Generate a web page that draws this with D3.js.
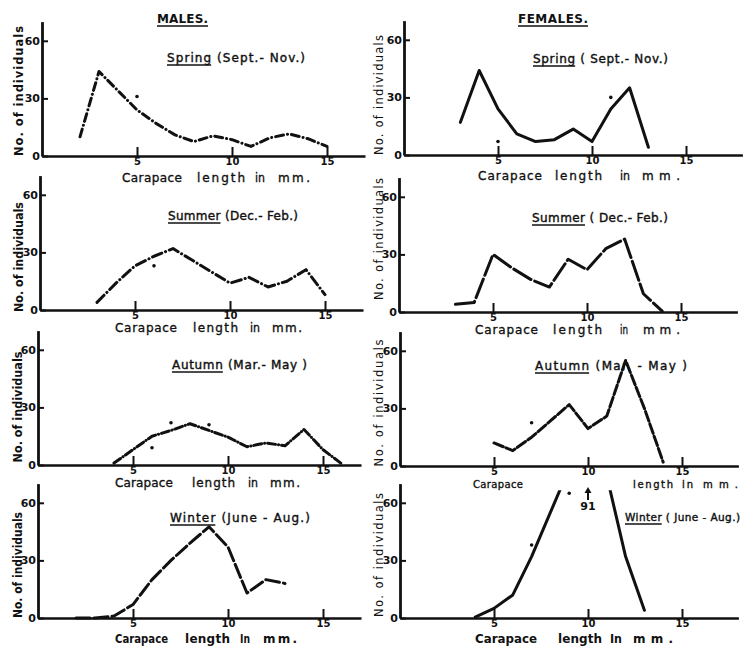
<!DOCTYPE html>
<html>
<head>
<meta charset="utf-8">
<script src="https://cdn.jsdelivr.net/npm/d3@7"></script>
<style>
  html, body { margin: 0; padding: 0; background: #fff; }
  svg { display: block; }
  text { font-family: "DejaVu Sans", "Liberation Sans", sans-serif; fill: #111; }
</style>
</head>
<body>
<svg id="chart" width="750" height="647"></svg>
<script>
// ---- Size-frequency data: carapace length (mm) vs. number of individuals ----
const maleSpringLength = [2, 3, 4, 5, 6, 7, 8, 9, 10, 11, 12, 13, 14, 15];
const maleSpringCount  = [10, 44, 34, 24, 17, 11, 7.5, 10.5, 8.5, 5, 9.5, 11.5, 9, 5];
const maleSpringDots   = [[5, 31]];

const femaleSpringLength = [3, 4, 5, 6, 7, 8, 9, 10, 11, 12, 13];
const femaleSpringCount  = [17, 44, 24, 11, 7, 8, 13.5, 7, 24, 35, 4];
const femaleSpringDots   = [[5, 7], [11, 30]];

const maleSummerLength = [3, 4, 5, 6, 7, 8, 9, 10, 11, 12, 13, 14, 15];
const maleSummerCount  = [4, 14, 23, 28, 32, 26, 20, 14, 17, 12, 15, 21, 8];
const maleSummerDots   = [[6, 23]];

const femaleSummerLength = [3, 4, 5, 6, 7, 8, 9, 10, 11, 12, 13, 14];
const femaleSummerCount  = [4, 5, 30, 23, 17, 13, 27.5, 22, 33, 38, 9.5, 0.5];
const femaleSummerDots   = [];

const maleAutumnLength = [4, 5, 6, 7, 8, 9, 10, 11, 12, 13, 14, 15, 16];
const maleAutumnCount  = [1, 8, 15, 18, 21.5, 18, 14.5, 9.5, 11.5, 10, 18.5, 8, 0.5];
const maleAutumnDots   = [[6, 9], [7, 22], [9, 21]];

const femaleAutumnLength = [5, 6, 7, 8, 9, 10, 11, 12, 13, 14];
const femaleAutumnCount  = [12, 8, 15, 23.5, 32, 19.5, 26, 55, 30, 2];
const femaleAutumnDots   = [[7, 22.5]];

const maleWinterLength = [2, 3, 4, 5, 6, 7, 8, 9, 10, 11, 12, 13];
const maleWinterCount  = [0, 0, 1, 7, 20, 30, 39, 47.5, 37, 13, 20, 18];
const maleWinterDots   = [];

const femaleWinterLength = [4, 5, 6, 7, 8, 9, 10, 11, 12, 13];
const femaleWinterCount  = [0.5, 5, 12, 32, 55, 78, 91, 74, 32, 4];
const femaleWinterDots   = [[7, 38], [9, 65]];

const xTickValues = [5, 10, 15];
const yTickValues = [0, 30, 60];
const offScaleNote = { length: 10, count: 91 };   // peak that runs off the top

// ---- Panel layout ----
const panels = [
  { len: maleSpringLength, cnt: maleSpringCount, dots: maleSpringDots, col: 0, x0: 42, base: 156,
    title: "Spring (Sept.- Nov.)", ul: 6, tx: 167, ty: 62, tw: 138, dash: "8,4,0.1,4",
    yl: { x: 23, cy: 91, len: 130 }, xlY: 182,
    xl: [["Carapace", 122, 60], ["length", 197, 48], ["in", 255, 10], ["mm.", 278, 32]] },
  { len: femaleSpringLength, cnt: femaleSpringCount, dots: femaleSpringDots, col: 1, x0: 404, base: 155,
    title: "Spring ( Sept.- Nov.)", ul: 6, tx: 533, ty: 63, tw: 135, dash: null,
    yl: { x: 383, cy: 95, len: 120 }, xlY: 180,
    xl: [["Carapace", 478, 64], ["length", 555, 47], ["in", 620, 10], ["mm.", 642, 38]] },
  { len: maleSummerLength, cnt: maleSummerCount, dots: maleSummerDots, col: 0, x0: 40, base: 310,
    title: "Summer (Dec.- Feb.)", ul: 6, tx: 168, ty: 220, tw: 130, dash: "10,4,0.1,4",
    yl: { x: 23, cy: 257, len: 110 }, xlY: 332,
    xl: [["Carapace", 115, 62], ["length", 193, 45], ["in", 250, 10], ["mm.", 272, 30]] },
  { len: femaleSummerLength, cnt: femaleSummerCount, dots: femaleSummerDots, col: 1, x0: 399, base: 312,
    title: "Summer ( Dec.- Feb.)", ul: 6, tx: 532, ty: 222, tw: 136, dash: "20,4",
    yl: { x: 383, cy: 239, len: 122 }, xlY: 334,
    xl: [["Carapace", 475, 63], ["length", 553, 49], ["in", 620, 8], ["mm.", 643, 37]] },
  { len: maleAutumnLength, cnt: maleAutumnCount, dots: maleAutumnDots, col: 0, x0: 38, base: 465,
    title: "Autumn (Mar.- May )", ul: 6, tx: 172, ty: 369, tw: 135, dash: "8,3,0.1,3",
    yl: { x: 22, cy: 407, len: 111 }, xlY: 487,
    xl: [["Carapace", 115, 58], ["length", 192, 43], ["in", 248, 10], ["mm.", 270, 30]] },
  { len: femaleAutumnLength, cnt: femaleAutumnCount, dots: femaleAutumnDots, col: 1, x0: 400, base: 466,
    title: "Autumn (Mar. - May )", ul: 6, tx: 535, ty: 370, tw: 152, dash: "10,3",
    yl: { x: 383, cy: 403, len: 127 }, xlY: 488, xlSize: 10,
    xl: [["Carapace", 473, 50], ["length", 633, 40], ["in", 682, 11], ["mm.", 703, 35]] },
  { len: maleWinterLength, cnt: maleWinterCount, dots: maleWinterDots, col: 0, x0: 38, base: 618,
    title: "Winter (June - Aug.)", ul: 6, tx: 170, ty: 522, tw: 140, dash: "14,4",
    yl: { x: 22, cy: 565, len: 106 }, xlY: 643, boldX: true,
    xl: [["Carapace", 115, 53], ["length", 185, 45], ["In", 240, 10], ["mm.", 263, 34]] },
  { len: femaleWinterLength, cnt: femaleWinterCount, dots: femaleWinterDots, col: 1, x0: 400, base: 618,
    title: "Winter ( June - Aug.)", ul: 6, tx: 625, ty: 521, tw: 115, titleSize: 10.5, dash: null, note: true,
    yl: { x: 383, cy: 555, len: 124 }, xlY: 643, boldX: true,
    xl: [["Carapace", 475, 62], ["length", 558, 44], ["In", 610, 12], ["mm.", 633, 40]] }
];

const columns = [
  { pxPerMm: 19, xMax: 17, boldY: true },
  { pxPerMm: 18.8, xMax: 18, boldY: false }
];
const PX_PER_UNIT = 1.92, Y_MAX = 70, Y_CLIP = 66.5;
const INK = "#111";

const svg = d3.select("#chart");
const defs = svg.append("defs");

// Fit a text to a width: stretch spacing when short, squeeze glyphs when long
function fitText(sel, width) {
  const natural = sel.node().getComputedTextLength();
  sel.attr("textLength", width)
     .attr("lengthAdjust", natural > width ? "spacingAndGlyphs" : "spacing");
  return sel;
}

// Column headings
function heading(label, x, y, w) {
  fitText(svg.append("text").attr("x", x).attr("y", y)
    .attr("font-size", 12).attr("font-weight", "bold").text(label), w);
  svg.append("line").attr("x1", x).attr("x2", x + w).attr("y1", y + 3).attr("y2", y + 3)
    .attr("stroke", INK).attr("stroke-width", 1.4);
}
heading("MALES.", 157, 23, 51);
heading("FEMALES.", 518, 23, 70);

panels.forEach((p, i) => {
  const c = columns[p.col];
  const x = d3.scaleLinear().domain([0, c.xMax]).range([p.x0, p.x0 + c.pxPerMm * c.xMax]);
  const y = d3.scaleLinear().domain([0, Y_MAX]).range([p.base, p.base - PX_PER_UNIT * Y_MAX]);
  const g = svg.append("g");

  // Axes
  const gx = g.append("g").attr("transform", `translate(0,${p.base})`)
    .call(d3.axisBottom(x).tickValues(xTickValues).tickSize(-9).tickSizeOuter(0).tickPadding(2));
  const gy = g.append("g").attr("transform", `translate(${p.x0},0)`)
    .call(d3.axisLeft(y).tickValues(yTickValues).tickSize(-6).tickSizeOuter(0).tickPadding(2));
  gx.select(".domain").attr("stroke", INK).attr("stroke-width", 2.4);
  gy.select(".domain").attr("stroke", INK).attr("stroke-width", 2.8);
  gx.selectAll(".tick line").attr("stroke", INK).attr("stroke-width", 2);
  gy.selectAll(".tick line").attr("stroke", INK).attr("stroke-width", 2);
  gx.selectAll(".tick text").attr("font-size", 10).attr("font-weight", "bold")
    .attr("font-family", "DejaVu Sans").attr("fill", INK);
  gy.selectAll(".tick text").attr("font-size", 11).attr("font-weight", "bold")
    .attr("font-family", "DejaVu Sans").attr("fill", INK);

  // Plot clip (curves running above the frame are cut off)
  const cid = "plotclip" + i;
  defs.append("clipPath").attr("id", cid).append("rect")
    .attr("x", p.x0).attr("y", y(Y_CLIP))
    .attr("width", c.pxPerMm * c.xMax).attr("height", p.base - y(Y_CLIP) + 6);

  // Frequency curve
  const pts = p.len.map((l, k) => [l, p.cnt[k]]);
  const line = d3.line().x(d => x(d[0])).y(d => y(d[1]));
  g.append("path").datum(pts)
    .attr("clip-path", `url(#${cid})`)
    .attr("d", line)
    .attr("fill", "none").attr("stroke", INK).attr("stroke-width", 3)
    .attr("stroke-linecap", "round").attr("stroke-linejoin", "round")
    .attr("stroke-dasharray", p.dash);

  // Loose plotted points
  g.selectAll("circle.pt").data(p.dots).join("circle").attr("class", "pt")
    .attr("cx", d => x(d[0])).attr("cy", d => y(d[1])).attr("r", 1.8).attr("fill", INK);

  // Season title with underlined season name
  const tt = fitText(g.append("text").attr("x", p.tx).attr("y", p.ty)
    .attr("font-size", p.titleSize || 12).attr("stroke", INK).attr("stroke-width", 0.4)
    .text(p.title), p.tw);
  const nd = tt.node();
  const u0 = nd.getStartPositionOfChar(0).x;
  const u1 = nd.getEndPositionOfChar(p.ul - 1).x;
  g.append("line").attr("x1", u0).attr("x2", u1).attr("y1", p.ty + 3).attr("y2", p.ty + 3)
    .attr("stroke", INK).attr("stroke-width", 1.3);

  // Y axis title
  fitText(g.append("text")
    .attr("transform", `translate(${p.yl.x},${p.yl.cy}) rotate(-90)`)
    .attr("text-anchor", "middle")
    .attr("font-size", 11.5).attr("font-weight", c.boldY ? "bold" : "normal")
    .text("No. of individuals"), p.yl.len);

  // X axis title, word by word
  p.xl.forEach(([word, wx, ww]) => {
    fitText(g.append("text").attr("x", wx).attr("y", p.xlY)
      .attr("font-size", p.xlSize || 12).attr("font-weight", p.boldX ? "bold" : "normal")
      .attr("stroke", p.boldX ? "none" : INK).attr("stroke-width", 0.35)
      .text(word), ww);
  });

  // Off-scale peak marker
  if (p.note) {
    const ax = x(offScaleNote.length);
    const top = p.base - 131, tail = p.base - 118;
    g.append("line").attr("x1", ax).attr("x2", ax).attr("y1", top + 4).attr("y2", tail)
      .attr("stroke", INK).attr("stroke-width", 2);
    g.append("path").attr("d", `M${ax},${top} L${ax - 3.5},${top + 6} L${ax + 3.5},${top + 6} Z`)
      .attr("fill", INK);
    g.append("text").attr("x", ax).attr("y", p.base - 108).attr("text-anchor", "middle")
      .attr("font-size", 11).attr("font-weight", "bold").text(offScaleNote.count);
  }
});
</script>
</body>
</html>
